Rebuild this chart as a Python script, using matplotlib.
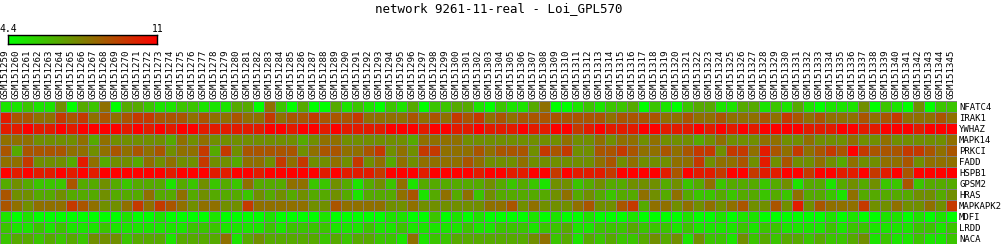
import numpy as np
import matplotlib
matplotlib.use("Agg")
import matplotlib.pyplot as plt
from matplotlib.colors import LinearSegmentedColormap, Normalize

plt.rcParams['font.family'] = ['DejaVu Sans Mono']

title = "network 9261-11-real - Loi_GPL570"
vmin, vmax = 4.4, 11
samples = [f"GSM{n}" for n in range(151259, 151346)]
genes = ["NFATC4", "IRAK1", "YWHAZ", "MAPK14", "PRKCI", "FADD", "HSPB1",
         "GPSM2", "HRAS", "MAPKAPK2", "MDFI", "LRDD", "NACA"]

NFATC4 = [5.1, 5.1, 5.9, 5.1, 5.1, 7.3, 4.4, 6.6, 5.9, 8.1, 4.4, 6.6, 6.6, 5.9, 5.1,
          5.1, 5.9, 5.9, 5.1, 5.1, 5.1, 6.6, 6.6, 4.4, 8.1, 5.9, 4.4, 6.6, 4.4, 4.4,
          6.6, 5.1, 5.9, 5.1, 4.4, 5.9, 5.1, 6.6, 4.4, 5.9, 5.9, 6.6, 6.6, 5.1, 4.4,
          5.9, 5.1, 5.1, 6.6, 8.1, 4.4, 4.4, 5.1, 5.9, 5.1, 5.9, 5.9, 6.6, 4.4, 5.9,
          5.1, 4.4, 5.9, 6.6, 6.6, 5.1, 5.1, 6.6, 6.6, 5.1, 5.9, 5.1, 6.6, 5.1, 4.4,
          5.1, 5.1, 5.1, 7.3, 4.4, 5.9, 5.1, 4.4, 7.3, 4.4, 5.9, 5.9]
IRAK1 = [10.3, 8.8, 8.8, 8.1, 8.1, 9.5, 8.8, 9.5, 8.1, 8.8, 8.1, 8.8, 9.5, 9.5, 8.8,
         8.8, 8.8, 8.1, 8.8, 8.1, 8.1, 8.8, 8.1, 8.1, 9.5, 8.1, 8.8, 8.8, 9.5, 8.8,
         8.8, 8.8, 9.5, 8.1, 8.1, 8.1, 8.1, 8.8, 8.1, 8.8, 8.1, 9.5, 8.8, 9.5, 8.1,
         8.8, 8.1, 8.8, 8.8, 8.8, 8.8, 8.8, 8.8, 8.8, 8.8, 8.1, 8.8, 8.8, 8.8, 8.8,
         8.1, 8.1, 8.8, 8.1, 8.1, 8.8, 8.1, 8.1, 8.1, 8.8, 8.1, 9.5, 8.8, 8.1, 8.8,
         8.1, 8.1, 8.1, 8.8, 8.1, 8.8, 9.5, 8.1, 8.1, 8.1, 8.8, 8.1]
YWHAZ = [10.3, 10.3, 11.0, 10.3, 10.3, 11.0, 10.3, 11.0, 11.0, 11.0, 11.0, 10.3, 11.0, 10.3, 11.0,
         10.3, 11.0, 11.0, 10.3, 10.3, 10.3, 10.3, 10.3, 10.3, 11.0, 11.0, 10.3, 11.0, 11.0, 10.3,
         11.0, 10.3, 10.3, 10.3, 10.3, 11.0, 11.0, 11.0, 10.3, 11.0, 11.0, 10.3, 10.3, 11.0, 10.3,
         10.3, 10.3, 11.0, 10.3, 10.3, 11.0, 11.0, 9.5, 10.3, 11.0, 10.3, 10.3, 10.3, 11.0, 11.0,
         10.3, 10.3, 10.3, 11.0, 10.3, 11.0, 10.3, 11.0, 10.3, 11.0, 11.0, 11.0, 11.0, 10.3, 10.3,
         10.3, 11.0, 11.0, 10.3, 10.3, 11.0, 11.0, 11.0, 10.3, 11.0, 11.0, 11.0]
MAPK14 = [8.1, 8.1, 8.1, 7.3, 7.3, 7.3, 7.3, 8.1, 6.6, 8.1, 7.3, 7.3, 7.3, 7.3, 7.3,
          6.6, 8.1, 7.3, 8.1, 7.3, 7.3, 7.3, 7.3, 7.3, 7.3, 7.3, 7.3, 6.6, 7.3, 8.1,
          8.1, 7.3, 7.3, 7.3, 7.3, 7.3, 7.3, 6.6, 8.1, 8.1, 8.1, 8.1, 7.3, 7.3, 7.3,
          7.3, 7.3, 7.3, 7.3, 7.3, 7.3, 8.1, 7.3, 7.3, 8.1, 7.3, 8.1, 8.1, 7.3, 8.1,
          7.3, 7.3, 7.3, 6.6, 7.3, 8.1, 7.3, 7.3, 7.3, 8.1, 8.1, 7.3, 7.3, 8.1, 7.3,
          7.3, 7.3, 8.1, 7.3, 7.3, 8.1, 7.3, 7.3, 7.3, 7.3, 7.3, 8.1]
PRKCI = [8.8, 6.6, 8.8, 8.8, 8.8, 8.8, 8.1, 8.1, 7.3, 8.1, 8.8, 8.1, 8.8, 8.1, 8.8,
         7.3, 8.1, 8.1, 9.5, 6.6, 9.5, 7.3, 8.8, 8.8, 8.8, 8.8, 8.8, 7.3, 8.1, 8.8,
         8.8, 8.1, 8.1, 8.8, 9.5, 7.3, 8.1, 7.3, 9.5, 9.5, 8.1, 8.1, 8.1, 8.8, 8.1,
         8.8, 8.8, 8.8, 7.3, 9.5, 8.8, 9.5, 7.3, 7.3, 8.8, 8.8, 9.5, 8.8, 8.1, 8.1,
         8.8, 8.1, 8.8, 9.5, 9.5, 7.3, 9.5, 9.5, 8.1, 10.3, 8.8, 8.1, 9.5, 8.1, 8.8,
         9.5, 8.8, 11.0, 9.5, 8.8, 8.8, 8.8, 9.5, 9.5, 8.8, 8.1, 8.8]
FADD = [8.1, 8.1, 9.5, 7.3, 7.3, 7.3, 6.6, 10.3, 8.1, 6.6, 7.3, 7.3, 6.6, 8.1, 7.3,
        8.1, 7.3, 7.3, 9.5, 7.3, 7.3, 6.6, 8.1, 8.1, 7.3, 9.5, 8.1, 9.5, 7.3, 7.3,
        8.1, 7.3, 9.5, 7.3, 8.1, 6.6, 8.1, 7.3, 8.1, 8.1, 8.1, 8.1, 8.8, 8.1, 7.3,
        7.3, 7.3, 8.1, 7.3, 7.3, 7.3, 7.3, 7.3, 7.3, 8.1, 8.8, 7.3, 8.1, 7.3, 7.3,
        7.3, 8.1, 8.1, 9.5, 7.3, 8.1, 8.1, 8.8, 7.3, 10.3, 7.3, 8.8, 7.3, 7.3, 8.1,
        7.3, 6.6, 8.1, 7.3, 7.3, 8.1, 8.1, 8.8, 7.3, 8.1, 8.1, 8.1]
HSPB1 = [11.0, 10.3, 11.0, 10.3, 10.3, 11.0, 10.3, 11.0, 10.3, 11.0, 11.0, 11.0, 11.0, 11.0, 11.0,
         10.3, 11.0, 11.0, 11.0, 10.3, 10.3, 11.0, 11.0, 10.3, 11.0, 11.0, 11.0, 11.0, 11.0, 10.3,
         11.0, 10.3, 10.3, 10.3, 9.5, 11.0, 11.0, 11.0, 10.3, 11.0, 11.0, 11.0, 11.0, 10.3, 11.0,
         11.0, 10.3, 10.3, 11.0, 11.0, 9.5, 11.0, 10.3, 10.3, 10.3, 9.5, 11.0, 11.0, 11.0, 11.0,
         10.3, 8.8, 11.0, 10.3, 10.3, 9.5, 11.0, 11.0, 9.5, 10.3, 10.3, 11.0, 11.0, 9.5, 11.0,
         11.0, 10.3, 10.3, 11.0, 9.5, 10.3, 11.0, 8.8, 11.0, 11.0, 11.0, 11.0]
GPSM2 = [6.6, 7.3, 6.6, 5.9, 5.9, 5.9, 8.8, 6.6, 6.6, 7.3, 6.6, 5.9, 6.6, 6.6, 6.6,
         5.1, 6.6, 5.9, 7.3, 5.9, 6.6, 5.9, 8.1, 6.6, 6.6, 6.6, 8.1, 8.1, 5.9, 5.9,
         7.3, 6.6, 5.1, 6.6, 7.3, 5.9, 8.1, 5.1, 6.6, 6.6, 6.6, 6.6, 6.6, 6.6, 7.3,
         6.6, 5.9, 6.6, 5.9, 5.1, 7.3, 7.3, 5.9, 6.6, 7.3, 6.6, 6.6, 7.3, 7.3, 7.3,
         6.6, 7.3, 5.9, 6.6, 8.1, 5.9, 6.6, 6.6, 6.6, 5.9, 6.6, 7.3, 5.1, 6.6, 6.6,
         5.1, 6.6, 7.3, 6.6, 7.3, 5.9, 5.9, 8.8, 5.9, 6.6, 6.6, 6.6]
HRAS = [8.8, 7.3, 7.3, 6.6, 6.6, 7.3, 6.6, 6.6, 6.6, 7.3, 6.6, 6.6, 6.6, 8.1, 6.6,
        6.6, 8.1, 6.6, 7.3, 6.6, 6.6, 6.6, 5.9, 7.3, 6.6, 7.3, 6.6, 7.3, 6.6, 6.6,
        7.3, 6.6, 5.1, 6.6, 6.6, 6.6, 8.1, 8.8, 5.1, 6.6, 8.1, 6.6, 8.1, 5.9, 7.3,
        6.6, 6.6, 6.6, 6.6, 6.6, 7.3, 8.1, 6.6, 7.3, 6.6, 5.9, 6.6, 6.6, 8.1, 7.3,
        6.6, 8.1, 6.6, 5.9, 5.9, 6.6, 5.9, 6.6, 6.6, 5.9, 6.6, 5.9, 8.1, 6.6, 6.6,
        5.9, 5.1, 8.1, 6.6, 6.6, 6.6, 6.6, 6.6, 7.3, 7.3, 6.6, 7.3]
MAPKAPK2 = [8.8, 8.1, 7.3, 8.1, 8.1, 8.1, 9.5, 8.8, 8.1, 7.3, 7.3, 8.1, 9.5, 8.1, 9.5,
            8.8, 8.1, 7.3, 8.1, 8.1, 7.3, 7.3, 9.5, 8.1, 8.1, 8.1, 8.1, 8.1, 7.3, 7.3,
            8.8, 8.1, 8.1, 8.1, 8.1, 7.3, 7.3, 8.1, 7.3, 7.3, 7.3, 7.3, 7.3, 7.3, 8.1,
            8.1, 8.8, 7.3, 8.1, 7.3, 7.3, 7.3, 8.1, 8.8, 7.3, 7.3, 8.8, 9.5, 6.6, 8.1,
            8.1, 7.3, 8.1, 7.3, 8.1, 7.3, 8.1, 8.8, 7.3, 7.3, 8.8, 7.3, 10.3, 7.3, 8.8,
            8.1, 8.1, 8.1, 9.5, 7.3, 7.3, 8.1, 7.3, 7.3, 8.1, 7.3, 9.5]
MDFI = [5.1, 4.4, 5.1, 4.4, 4.4, 4.4, 4.4, 4.4, 4.4, 4.4, 4.4, 5.1, 4.4, 4.4, 5.1,
        4.4, 4.4, 4.4, 4.4, 5.1, 4.4, 4.4, 4.4, 4.4, 5.1, 4.4, 4.4, 4.4, 4.4, 5.1,
        4.4, 4.4, 4.4, 4.4, 4.4, 5.1, 5.1, 4.4, 4.4, 5.9, 4.4, 5.1, 4.4, 5.1, 4.4,
        4.4, 4.4, 4.4, 5.1, 4.4, 5.1, 4.4, 4.4, 5.1, 4.4, 4.4, 4.4, 5.1, 4.4, 4.4,
        4.4, 4.4, 5.1, 4.4, 4.4, 5.1, 4.4, 5.1, 5.1, 4.4, 4.4, 4.4, 4.4, 4.4, 4.4,
        5.1, 4.4, 5.1, 4.4, 4.4, 5.1, 5.1, 4.4, 5.1, 4.4, 5.1, 4.4]
LRDD = [5.9, 5.1, 5.1, 5.9, 5.1, 5.9, 5.1, 5.1, 5.1, 5.9, 5.1, 5.1, 5.1, 5.1, 5.1,
        5.1, 5.1, 5.9, 5.9, 5.9, 5.1, 5.1, 5.1, 5.1, 5.9, 5.1, 5.9, 5.9, 5.9, 5.9,
        5.1, 5.1, 5.1, 5.9, 5.1, 5.1, 5.9, 5.1, 5.1, 5.1, 5.1, 5.1, 5.9, 5.1, 5.1,
        5.9, 5.9, 5.9, 5.1, 5.9, 5.9, 6.6, 5.1, 5.1, 5.9, 5.9, 5.9, 6.6, 5.9, 5.9,
        5.9, 5.1, 5.9, 5.1, 5.1, 5.1, 5.1, 5.9, 5.1, 5.9, 5.9, 5.1, 5.1, 5.1, 5.1,
        5.9, 5.1, 5.9, 5.9, 5.1, 5.1, 5.1, 5.1, 5.9, 5.9, 5.1, 5.9]
NACA = [5.9, 6.6, 6.6, 5.9, 6.6, 5.9, 6.6, 5.9, 7.3, 7.3, 7.3, 5.9, 6.6, 6.6, 6.6,
        5.1, 6.6, 6.6, 6.6, 6.6, 8.1, 5.1, 6.6, 7.3, 6.6, 6.6, 6.6, 6.6, 6.6, 5.9,
        6.6, 5.9, 6.6, 6.6, 5.9, 5.9, 5.1, 8.1, 5.1, 5.9, 5.9, 6.6, 6.6, 6.6, 6.6,
        6.6, 6.6, 6.6, 7.3, 8.1, 5.9, 6.6, 5.1, 6.6, 5.9, 6.6, 5.9, 5.9, 6.6, 7.3,
        6.6, 7.3, 5.1, 7.3, 5.9, 5.9, 5.1, 7.3, 5.9, 6.6, 5.9, 6.6, 6.6, 5.9, 6.6,
        5.9, 5.9, 6.6, 7.3, 5.1, 5.9, 5.1, 5.1, 5.9, 5.1, 5.1, 5.9]

data = np.array([NFATC4, IRAK1, YWHAZ, MAPK14, PRKCI, FADD, HSPB1,
                 GPSM2, HRAS, MAPKAPK2, MDFI, LRDD, NACA])

cmap = LinearSegmentedColormap.from_list("gr", ["#00ff00", "#ff0000"])
norm = Normalize(vmin=vmin, vmax=vmax)

W, H = 1004, 244
fig = plt.figure(figsize=(W / 100, H / 100), dpi=100)

# heatmap
nr, nc = data.shape
ax = fig.add_axes([0, 0, 957 / W, 143 / H])
ax.imshow(data, cmap=cmap, norm=norm, aspect="auto", interpolation="nearest",
          extent=(0, nc, nr, 0))
ax.vlines(np.arange(nc + 1), 0, nr, color="#808080", linewidth=0.72,
          antialiased=False)
ax.hlines(np.arange(nr + 1), 0, nc, color="#808080", linewidth=0.72,
          antialiased=False)
ax.set_xlim(0, nc)
ax.set_ylim(nr, 0)
ax.xaxis.tick_top()
ax.set_xticks(np.arange(nc) + 0.5)
ax.set_xticklabels(samples, rotation=90, fontsize=6.6)
ax.yaxis.tick_right()
ax.set_yticks(np.arange(nr) + 0.5)
ax.set_yticklabels(genes, fontsize=6.5)
ax.tick_params(length=0, pad=1.5)
for s in ax.spines.values():
    s.set_visible(False)

# colour key
cax = fig.add_axes([8 / W, (H - 44) / H, 149 / W, 9 / H])
cax.imshow(np.linspace(vmin, vmax, 256)[None, :], aspect="auto", cmap=cmap, norm=norm)
cax.set_xticks([])
cax.set_yticks([])
for s in cax.spines.values():
    s.set_linewidth(1)
fig.text(8 / W, (H - 34) / H, "4.4", ha="center", va="bottom", fontsize=7)
fig.text(158 / W, (H - 34) / H, "11", ha="center", va="bottom", fontsize=7)

fig.text(499 / W, (H - 9) / H, title, ha="center", va="center", fontsize=9)

fig.savefig("out.png", dpi=100)
